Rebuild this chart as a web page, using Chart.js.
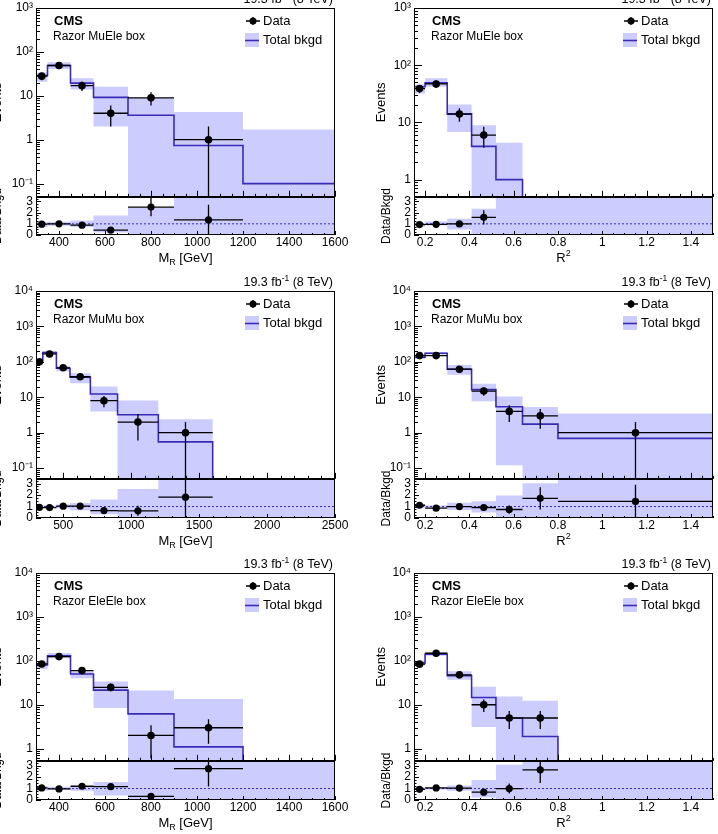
<!DOCTYPE html>
<html>
<head>
<meta charset="utf-8">
<title>Razor boxes</title>
<script src="https://cdn.jsdelivr.net/npm/chart.js@4.4.1/dist/chart.umd.min.js"></script>
<style>
  html, body { margin: 0; padding: 0; background: #fff; }
  body { position: relative; width: 718px; height: 834px; overflow: hidden; }
  canvas { position: absolute; }
</style>
</head>
<body>
<script>
// bin edges
const mrEdges = [300, 350, 450, 550, 700, 900, 1200, 1600];
const mrEdgesWide = [300, 350, 450, 550, 700, 900, 1200, 1600, 2500];
const r2Edges = [0.15, 0.2, 0.3, 0.41, 0.52, 0.64, 0.8, 1.5];

// MuEle box
const muEleMrData = [28, 49, 17, 4, 9, 1, null];
const muEleMrErr  = [5.3, 7, 4.1, 2, 3, 1, null];
const muEleMrBkg  = [29, 49, 19.4, 9.2, 3.6, 0.74, 0.1];
const muEleMrLo   = [21, 41, 14, 2, 0, 0, 0];
const muEleMrHi   = [34, 58, 25, 16, 8.8, 4.3, 1.7];

const muEleR2Data = [39, 47, 14, 6, null, null, null];
const muEleR2Err  = [6.2, 6.9, 3.7, 2.4, null, null, null];
const muEleR2Bkg  = [42, 49, 14.1, 3.8, 1.0, 0.1, 0.02];
const muEleR2Lo   = [32, 42, 6.8, 0, 0, 0, 0];
const muEleR2Hi   = [46, 59, 20.6, 8.9, 4.4, 0.45, 0.3];

// MuMu box
const muMuMrData = [100, 167, 68, 38, 8, 2, 1, null];
const muMuMrErr  = [10, 13, 8.2, 6.2, 2.8, 1.4, 1, null];
const muMuMrBkg  = [108, 183, 66, 37, 12.4, 3.2, 0.55, 0.01];
const muMuMrLo   = [95, 165, 54, 25, 4.0, 0, 0, 0];
const muMuMrHi   = [120, 200, 78, 48, 20, 8.1, 2.4, 0.04];

const muMuR2Data = [150, 150, 62, 15, 4, 3, 1];
const muMuR2Err  = [12, 12, 8, 3.9, 2, 1.7, 1];
const muMuR2Bkg  = [135, 175, 62, 16.4, 5.4, 1.75, 0.69];
const muMuR2Lo   = [120, 160, 43, 7.7, 0.12, 0, 0];
const muMuR2Hi   = [160, 190, 82, 24, 10.6, 5.3, 3.5];

// EleEle box
const eleEleMrData = [85, 125, 60, 25, 2, 3, null];
const eleEleMrErr  = [9.2, 11, 7.7, 5, 1.4, 1.7, null];
const eleEleMrBkg  = [81, 130, 50, 21.6, 6.2, 1.1, 0.05];
const eleEleMrLo   = [65, 115, 40, 8.4, 0, 0, 0];
const eleEleMrHi   = [97, 150, 57, 34, 21, 13.6, 0.4];

const eleEleR2Data = [84, 149, 48, 10, 5, 5, null];
const eleEleR2Err  = [9.2, 12.2, 6.9, 3.2, 2.2, 2.2, null];
const eleEleR2Bkg  = [90, 142, 46, 14.6, 5.0, 1.9, 0.05];
const eleEleR2Lo   = [78, 130, 37, 3.1, 0, 0, 0];
const eleEleR2Hi   = [100, 155, 58, 25.6, 15.4, 12.3, 0.4];

const logTicks = [0.1, 1, 10, 100, 1000, 10000];
const logTickLabels = ['10\u207B\u00B9', '1', '10', '10\u00B2', '10\u00B3', '10\u2074'];
const ratioMax = 3.4;

const BAND = 'rgb(204,204,255)';
const LINE = '#3a2ab5';
const FONT = "'Liberation Sans', Arial, Helvetica, sans-serif";
const PW = 299;

const panels = [
  {L: 36,  T: 8,   B: 197, RB: 235, col: 0, edges: mrEdges, data: muEleMrData, err: muEleMrErr, bkg: muEleMrBkg, lo: muEleMrLo, hi: muEleMrHi,
   box: 'Razor MuEle box', xVar: 'MR', xMin: 300, xMax: 1600, xStep: 200, xSub: 4, yMin: 0.05, yMax: 1e3},
  {L: 414, T: 8,   B: 197, RB: 235, col: 1, edges: r2Edges, data: muEleR2Data, err: muEleR2Err, bkg: muEleR2Bkg, lo: muEleR2Lo, hi: muEleR2Hi,
   box: 'Razor MuEle box', xVar: 'R2', xMin: 0.15, xMax: 1.5, xStep: 0.2, xSub: 4, yMin: 0.5, yMax: 1e3},
  {L: 36,  T: 291, B: 479, RB: 518, col: 0, edges: mrEdgesWide, data: muMuMrData, err: muMuMrErr, bkg: muMuMrBkg, lo: muMuMrLo, hi: muMuMrHi,
   box: 'Razor MuMu box', xVar: 'MR', xMin: 300, xMax: 2500, xStep: 500, xSub: 5, yMin: 0.05, yMax: 1e4},
  {L: 414, T: 291, B: 479, RB: 518, col: 1, edges: r2Edges, data: muMuR2Data, err: muMuR2Err, bkg: muMuR2Bkg, lo: muMuR2Lo, hi: muMuR2Hi,
   box: 'Razor MuMu box', xVar: 'R2', xMin: 0.15, xMax: 1.5, xStep: 0.2, xSub: 4, yMin: 0.05, yMax: 1e4},
  {L: 36,  T: 573, B: 761, RB: 800, col: 0, edges: mrEdges, data: eleEleMrData, err: eleEleMrErr, bkg: eleEleMrBkg, lo: eleEleMrLo, hi: eleEleMrHi,
   box: 'Razor EleEle box', xVar: 'MR', xMin: 300, xMax: 1600, xStep: 200, xSub: 4, yMin: 0.53, yMax: 1e4},
  {L: 414, T: 573, B: 761, RB: 800, col: 1, edges: r2Edges, data: eleEleR2Data, err: eleEleR2Err, bkg: eleEleR2Bkg, lo: eleEleR2Lo, hi: eleEleR2Hi,
   box: 'Razor EleEle box', xVar: 'R2', xMin: 0.15, xMax: 1.5, xStep: 0.2, xSub: 4, yMin: 0.53, yMax: 1e4}
];

// histogram outline points (value i holds from edge i to edge i+1)
function stepPts(edges, vals, floor) {
  const pts = vals.map((v, i) => ({x: edges[i], y: v > 0 ? v : floor}));
  pts.push({x: edges[edges.length - 1], y: pts[pts.length - 1].y});
  return pts;
}

function errPts(edges, vals, err, floor) {
  const pts = [];
  vals.forEach((v, i) => {
    if (v === null) return;
    const c = (edges[i] + edges[i + 1]) / 2;
    const lo = v - err[i];
    pts.push({x: c, y: lo > 0 ? lo : floor}, {x: c, y: v + err[i]}, {x: c, y: null});
    pts.push({x: edges[i], y: v}, {x: edges[i + 1], y: v}, {x: edges[i + 1], y: null});
  });
  return pts;
}

function centerPts(edges, vals) {
  const pts = [];
  vals.forEach((v, i) => { if (v !== null) pts.push({x: (edges[i] + edges[i + 1]) / 2, y: v}); });
  return pts;
}

function numLabel(v) { return String(Math.round(v * 100) / 100); }

// frame with ROOT-like inward ticks
const frame = {
  id: 'frame',
  afterDatasetsDraw(chart, args, o) {
    const {ctx, chartArea: a, scales: {x, y}} = chart;
    ctx.save();
    ctx.strokeStyle = '#000';
    ctx.lineWidth = 1;
    ctx.beginPath();
    const sub = o.xStep / o.xSub;
    for (let k = Math.ceil(x.min / sub - 1e-6); k <= Math.floor(x.max / sub + 1e-6); k++) {
      const px = Math.round(x.getPixelForValue(k * sub)) + 0.5;
      const len = k % o.xSub === 0 ? o.xMaj : o.xMaj / 2;
      ctx.moveTo(px, a.bottom); ctx.lineTo(px, a.bottom - len);
    }
    if (o.yLog) {
      for (let d = Math.floor(Math.log10(y.min)); d <= Math.ceil(Math.log10(y.max)); d++) {
        for (let m = 1; m <= 9; m++) {
          const v = m * Math.pow(10, d);
          if (v < y.min * 0.999 || v > y.max * 1.001) continue;
          const py = Math.round(y.getPixelForValue(v)) + 0.5;
          ctx.moveTo(a.left, py); ctx.lineTo(a.left + (m === 1 ? o.yMaj : o.yMaj / 2), py);
        }
      }
    } else {
      for (let k = 0; k * 0.25 <= y.max; k++) {
        const py = Math.round(y.getPixelForValue(k * 0.25)) + 0.5;
        ctx.moveTo(a.left, py); ctx.lineTo(a.left + (k % 4 === 0 ? o.yMaj : o.yMaj / 2), py);
      }
    }
    ctx.stroke();
    ctx.strokeRect(Math.round(a.left) + 0.5, Math.round(a.top) + 0.5,
      Math.round(a.right - a.left) - 1, Math.round(a.bottom - a.top) - 1);
    ctx.restore();
  }
};

function richText(ctx, parts, x, base, align) {
  let w = 0;
  parts.forEach(p => { ctx.font = p[1]; w += ctx.measureText(p[0]).width; });
  let cx = align === 'right' ? x - w : align === 'center' ? x - w / 2 : x;
  ctx.textAlign = 'left';
  ctx.textBaseline = 'alphabetic';
  parts.forEach(p => { ctx.font = p[1]; ctx.fillText(p[0], cx, base + p[2]); cx += ctx.measureText(p[0]).width; });
}

// labels, legend and axis titles
const deco = {
  id: 'deco',
  afterDraw(chart, args, o) {
    const {ctx, chartArea: a} = chart;
    ctx.save();
    ctx.fillStyle = '#000';
    if (o.main) {
      const big = '12.5px ' + FONT, small = '8.5px ' + FONT;
      richText(ctx, [['19.3 fb', big, 0], ['-1', small, -5], [' (8 TeV)', big, 0]], a.right - 2, a.top - 5, 'right');
      ctx.font = 'bold 13px ' + FONT;
      ctx.textBaseline = 'middle';
      ctx.textAlign = 'left';
      ctx.fillText('CMS', a.left + 18, a.top + 13);
      ctx.font = '12px ' + FONT;
      ctx.fillText(o.box, a.left + 17, a.top + 29);
      // legend
      const lx = a.right - 82, ly = a.top + 13;
      ctx.strokeStyle = '#000';
      ctx.lineWidth = 1.3;
      ctx.beginPath();
      ctx.moveTo(lx - 7, ly); ctx.lineTo(lx + 7, ly);
      ctx.moveTo(lx, ly - 4); ctx.lineTo(lx, ly + 4);
      ctx.stroke();
      ctx.beginPath(); ctx.arc(lx, ly, 3.5, 0, Math.PI * 2); ctx.fill();
      ctx.fillStyle = BAND;
      ctx.fillRect(a.right - 90, a.top + 25, 14, 14);
      ctx.strokeStyle = LINE;
      ctx.lineWidth = 1.6;
      ctx.beginPath(); ctx.moveTo(a.right - 90, a.top + 32.5); ctx.lineTo(a.right - 76, a.top + 32.5); ctx.stroke();
      ctx.fillStyle = '#000';
      ctx.font = '13px ' + FONT;
      ctx.fillText('Data', a.right - 72, ly);
      ctx.fillText('Total bkgd', a.right - 72, a.top + 32);
    } else {
      const big = '13px ' + FONT, small = '9px ' + FONT;
      const cx = (a.left + a.right) / 2, base = a.bottom + 27;
      if (o.xVar === 'MR') richText(ctx, [['M', big, 0], ['R', small, 3], [' [GeV]', big, 0]], cx, base, 'center');
      else richText(ctx, [['R', big, 0], ['2', small, -6]], cx, base, 'center');
    }
    ctx.restore();
  }
};

function makeCanvas(left, top, w, h) {
  const c = document.createElement('canvas');
  c.width = w; c.height = h;
  c.style.left = left + 'px'; c.style.top = top + 'px';
  c.style.width = w + 'px'; c.style.height = h + 'px';
  document.body.appendChild(c);
  return c;
}

const tickFont = {family: FONT, size: 12};
const baseOpts = {
  responsive: false, animation: false, events: [], devicePixelRatio: 1
};

panels.forEach(p => {
  const floor = p.yMin * 1e-4;
  const padL = 2;

  // main histogram panel
  const yW = p.col === 0 ? 50 : 44;
  const mc = makeCanvas(p.L - yW - padL, p.T - 26, PW + yW + padL + 18, (p.B - p.T) + 36);
  new Chart(mc, {
    type: 'line',
    data: {
      datasets: [
        {data: centerPts(p.edges, p.data), showLine: false, pointRadius: 3.8, pointBackgroundColor: '#000', pointBorderWidth: 0},
        {data: errPts(p.edges, p.data, p.err, floor), borderColor: '#000', borderWidth: 1.3, pointRadius: 0, spanGaps: false},
        {data: stepPts(p.edges, p.bkg, floor), stepped: true, borderColor: LINE, borderWidth: 1.6, pointRadius: 0},
        {data: stepPts(p.edges, p.hi, floor), stepped: true, borderColor: 'rgba(0,0,0,0)', borderWidth: 0, pointRadius: 0, fill: '+1', backgroundColor: BAND},
        {data: stepPts(p.edges, p.lo, floor), stepped: true, borderColor: 'rgba(0,0,0,0)', borderWidth: 0, pointRadius: 0}
      ]
    },
    options: {
      ...baseOpts,
      layout: {padding: {left: padL, right: 18, top: 26, bottom: 10}},
      scales: {
        x: {type: 'linear', min: p.xMin, max: p.xMax, display: false},
        y: {
          type: 'logarithmic', min: p.yMin, max: p.yMax,
          afterBuildTicks: s => { s.ticks = logTicks.filter(v => v >= s.min && v <= s.max).map(v => ({value: v})); },
          afterFit: s => { s.width = yW; },
          ticks: {autoSkip: false, color: '#000', font: tickFont, padding: 3,
                  callback: v => logTickLabels[logTicks.indexOf(v)]},
          grid: {display: false, drawTicks: false},
          border: {display: false},
          title: {display: true, text: 'Events', color: '#000', font: {family: FONT, size: 13}, padding: {top: 4, bottom: 4}}
        }
      },
      plugins: {
        legend: {display: false}, tooltip: {enabled: false},
        frame: {xStep: p.xStep, xSub: p.xSub, xMaj: 6, yLog: true, yMaj: 8},
        deco: {main: true, box: p.box}
      }
    },
    plugins: [frame, deco]
  });

  // ratio panel
  const rW = p.col === 0 ? 50 : 39;
  const ratio = p.data.map((v, i) => v === null ? null : v / p.bkg[i]);
  const ratioErr = p.err.map((e, i) => e === null ? null : e / p.bkg[i]);
  const ratioLo = p.lo.map((v, i) => v / p.bkg[i]);
  const ratioHi = p.hi.map((v, i) => v / p.bkg[i]);
  const rc = makeCanvas(p.L - rW - padL, p.B - 34, PW + rW + padL + 18, 34 + (p.RB - p.B) + 40);
  new Chart(rc, {
    type: 'line',
    data: {
      datasets: [
        {data: centerPts(p.edges, ratio), showLine: false, pointRadius: 3.6, pointBackgroundColor: '#000', pointBorderWidth: 0},
        {data: errPts(p.edges, ratio, ratioErr, 0), borderColor: '#000', borderWidth: 1.3, pointRadius: 0, spanGaps: false},
        {data: [{x: p.xMin, y: 1}, {x: p.xMax, y: 1}], borderColor: LINE, borderWidth: 1, borderDash: [2, 2], pointRadius: 0},
        {data: stepPts(p.edges, ratioHi, 0), stepped: true, borderColor: 'rgba(0,0,0,0)', borderWidth: 0, pointRadius: 0, fill: '+1', backgroundColor: BAND},
        {data: stepPts(p.edges, ratioLo, 0), stepped: true, borderColor: 'rgba(0,0,0,0)', borderWidth: 0, pointRadius: 0}
      ]
    },
    options: {
      ...baseOpts,
      layout: {padding: {left: padL, right: 18, top: 34, bottom: 0}},
      scales: {
        x: {
          type: 'linear', min: p.xMin, max: p.xMax,
          afterBuildTicks: s => {
            const t = [];
            for (let k = Math.ceil(p.xMin / p.xStep - 1e-6); k * p.xStep <= p.xMax + 1e-9; k++) {
              t.push({value: Math.round(k * p.xStep * 100) / 100});
            }
            s.ticks = t;
          },
          afterFit: s => { s.height = 40; },
          ticks: {autoSkip: false, maxRotation: 0, color: '#000', font: tickFont, padding: 0,
                  callback: v => numLabel(v)},
          grid: {display: false, drawTicks: false},
          border: {display: false}
        },
        y: {
          type: 'linear', min: 0, max: ratioMax,
          afterFit: s => { s.width = rW; },
          ticks: {stepSize: 1, includeBounds: false, autoSkip: false, color: '#000', font: tickFont, padding: 3,
                  callback: v => numLabel(v)},
          grid: {display: false, drawTicks: false},
          border: {display: false},
          title: {display: true, text: 'Data/Bkgd', color: '#000', font: {family: FONT, size: 12}, padding: {top: 4, bottom: 4}}
        }
      },
      plugins: {
        legend: {display: false}, tooltip: {enabled: false},
        frame: {xStep: p.xStep, xSub: p.xSub, xMaj: 4, yLog: false, yMaj: 5},
        deco: {main: false, xVar: p.xVar}
      }
    },
    plugins: [frame, deco]
  });
});
</script>
</body>
</html>
